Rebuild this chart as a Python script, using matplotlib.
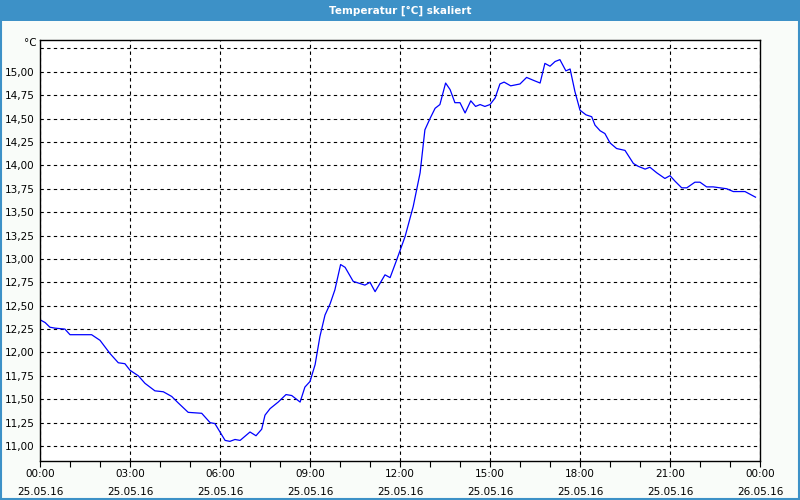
import matplotlib
matplotlib.use("Agg")
import matplotlib.pyplot as plt
from matplotlib.patches import Rectangle
from matplotlib.ticker import FixedLocator, MultipleLocator

# Temperatur-Verlauf, Stunden ab 25.05.16 00:00
hours = [0.0, 0.17, 0.33, 0.5, 0.83, 1.0, 1.72, 2.0, 2.33, 2.61, 2.83, 3.0,
         3.28, 3.5, 3.83, 4.11, 4.39, 4.61, 4.94, 5.39, 5.67, 5.83, 6.0, 6.17,
         6.33, 6.5, 6.67, 7.0, 7.2, 7.39, 7.5, 7.67, 7.94, 8.2, 8.39, 8.67,
         8.83, 9.0, 9.17, 9.33, 9.5, 9.67, 9.83, 10.02, 10.17, 10.44, 10.83,
         11.0, 11.17, 11.5, 11.67, 11.89, 12.17, 12.44, 12.67, 12.83, 13.0,
         13.17, 13.33, 13.52, 13.67, 13.83, 14.0, 14.17, 14.36, 14.52, 14.67,
         14.83, 15.0, 15.17, 15.33, 15.47, 15.69, 16.0, 16.22, 16.44, 16.67,
         16.83, 17.0, 17.17, 17.33, 17.53, 17.67, 17.83, 18.0, 18.2, 18.39,
         18.5, 18.67, 18.83, 19.0, 19.22, 19.5, 19.78, 19.94, 20.17, 20.33,
         20.56, 20.83, 21.0, 21.17, 21.39, 21.56, 21.83, 22.0, 22.22, 22.44,
         22.89, 23.11, 23.5, 23.85]
temps = [12.35, 12.32, 12.27, 12.26, 12.25, 12.19, 12.19, 12.13, 11.99, 11.89,
         11.88, 11.81, 11.75, 11.67, 11.59, 11.58, 11.53, 11.46, 11.36, 11.35,
         11.25, 11.24, 11.15, 11.06, 11.05, 11.07, 11.06, 11.15, 11.11, 11.18,
         11.33, 11.40, 11.47, 11.55, 11.54, 11.47, 11.63, 11.69, 11.87, 12.17,
         12.40, 12.52, 12.67, 12.94, 12.91, 12.76, 12.72, 12.75, 12.65, 12.83,
         12.80, 12.99, 13.24, 13.56, 13.92, 14.38, 14.50, 14.61, 14.65, 14.88,
         14.81, 14.67, 14.67, 14.56, 14.69, 14.63, 14.65, 14.63, 14.65, 14.72,
         14.87, 14.89, 14.85, 14.87, 14.94, 14.91, 14.88, 15.09, 15.06, 15.11,
         15.13, 15.01, 15.03, 14.79, 14.59, 14.54, 14.52, 14.43, 14.37, 14.34,
         14.24, 14.18, 14.16, 14.02, 13.99, 13.96, 13.98, 13.92, 13.86, 13.89,
         13.83, 13.76, 13.76, 13.82, 13.82, 13.77, 13.77, 13.75, 13.72, 13.72,
         13.66]

x_ticks = [0, 3, 6, 9, 12, 15, 18, 21, 24]
x_times = ["00:00", "03:00", "06:00", "09:00", "12:00", "15:00", "18:00", "21:00", "00:00"]
x_dates = ["25.05.16"] * 8 + ["26.05.16"]
y_ticks = [11.0, 11.25, 11.5, 11.75, 12.0, 12.25, 12.5, 12.75, 13.0, 13.25,
           13.5, 13.75, 14.0, 14.25, 14.5, 14.75, 15.0, 15.25]

title = "Temperatur [°C] skaliert"
blue = "#3d91c7"

fig = plt.figure(figsize=(8, 5), dpi=100, facecolor="#f9fcf9")

# Titelleiste und Rahmen
fig.patches.append(Rectangle((0, 0.958), 1, 0.042, transform=fig.transFigure,
                             facecolor=blue, edgecolor="none", zorder=0))
fig.patches.append(Rectangle((0.001, 0.002), 0.998, 0.96, transform=fig.transFigure,
                             facecolor="none", edgecolor=blue, lw=1.5, zorder=0))
fig.text(0.5, 0.979, title, color="white", fontsize=7.5, fontweight="bold",
         ha="center", va="center")

ax = fig.add_axes([0.05, 0.078, 0.9, 0.842])
ax.set_facecolor("white")
ax.plot(hours, temps, color="#0000ff", lw=0.9)

ax.set_xlim(0, 24)
ax.set_ylim(10.84, 15.34)

ax.set_xticks(x_ticks)
ax.set_xticklabels([t + "\n" + d for t, d in zip(x_times, x_dates)],
                   fontsize=7.5, linespacing=2.1)
ax.xaxis.set_minor_locator(MultipleLocator(1))
ax.tick_params(axis="x", which="both", direction="out", length=4, width=0.8,
               pad=1.5)

ax.yaxis.set_major_locator(FixedLocator(y_ticks))
ax.set_yticklabels([("%.2f" % v).replace(".", ",") if v < 15.2 else ""
                    for v in y_ticks], fontsize=7.5)
ax.tick_params(axis="y", length=0, pad=4)
ax.text(-0.004, 0.992, "°C", transform=ax.transAxes, ha="right", va="center",
        fontsize=7.5)

ax.grid(True, which="major", color="black", linestyle=(0, (3, 3)), lw=0.8)
for s in ax.spines.values():
    s.set_linewidth(1.0)

fig.savefig("out.png", dpi=100, facecolor=fig.get_facecolor())
